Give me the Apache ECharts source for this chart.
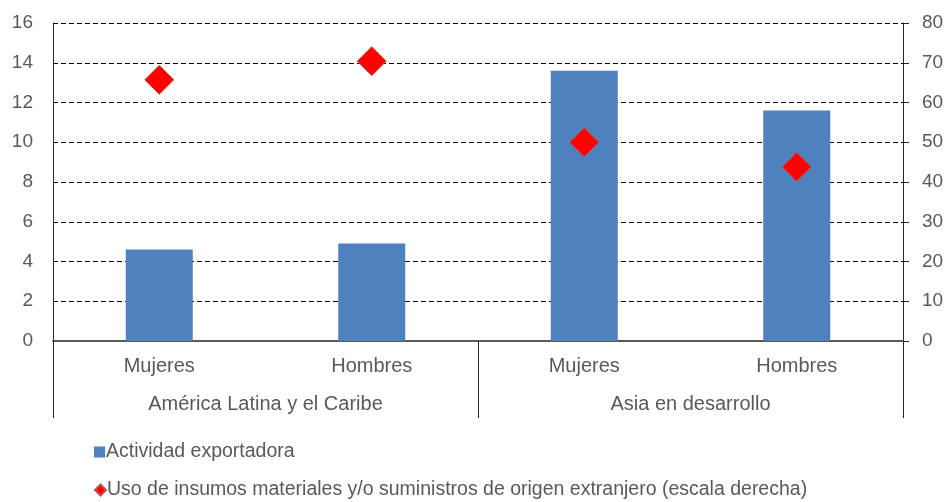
<!DOCTYPE html>
<html>
<head>
<meta charset="utf-8">
<script src="https://cdn.jsdelivr.net/npm/echarts@6/dist/echarts.min.js"></script>
<style>
  html, body { margin: 0; padding: 0; background: #fff; }
  #chart { width: 948px; height: 502px; }
</style>
</head>
<body>
<div id="chart"></div>
<script>
  // datos
  const categories = ['Mujeres', 'Hombres', 'Mujeres', 'Hombres']
  const groups = ['América Latina y el Caribe', 'Asia en desarrollo']
  const exportActivity = [4.6, 4.9, 13.6, 11.6] // escala izquierda
  const foreignInputs = [65.7, 70.4, 50.0, 43.8] // escala derecha
  const seriesNames = ['Actividad exportadora', 'Uso de insumos materiales y/o suministros de origen extranjero (escala derecha)']

  const font = 'Liberation Sans, Arial, sans-serif'
  const textColor = '#595959'

  const legendBase = {
    left: 89,
    itemWidth: 11,
    itemHeight: 11,
    textStyle: { fontFamily: font, fontSize: 19.5, color: textColor, padding: [0, 0, 0, -4] }
  }

  const chart = echarts.init(document.getElementById('chart'))
  const option = {
    animation: false,
    textStyle: { fontFamily: font },
    grid: { left: 53, right: 45, top: 23, bottom: 161 },
    legend: [
      Object.assign({}, legendBase, { top: 437, data: [{ name: seriesNames[0], icon: 'rect' }] }),
      Object.assign({}, legendBase, { top: 475, data: [{ name: seriesNames[1], icon: 'diamond' }] })
    ],
    xAxis: [
      {
        type: 'category',
        data: categories,
        position: 'bottom',
        axisLine: { show: true, lineStyle: { color: '#595959', width: 2 } },
        axisTick: { show: false },
        axisLabel: { margin: 15, fontSize: 20, color: textColor, fontFamily: font }
      },
      {
        type: 'category',
        data: groups,
        position: 'bottom',
        axisLine: { show: false },
        axisTick: { show: true, length: 77, lineStyle: { color: '#262626', width: 1 } },
        axisLabel: { margin: 53, fontSize: 20, color: textColor, fontFamily: font }
      }
    ],
    yAxis: [
      {
        type: 'value',
        min: 0,
        max: 16,
        interval: 2,
        axisLine: { show: true, lineStyle: { color: '#262626', width: 1 } },
        axisTick: { show: false },
        axisLabel: { margin: 20, fontSize: 19, color: textColor, fontFamily: font },
        splitLine: { show: true, lineStyle: { color: '#000', type: [5, 3], width: 1 } }
      },
      {
        type: 'value',
        min: 0,
        max: 80,
        interval: 10,
        position: 'right',
        axisLine: { show: true, lineStyle: { color: '#262626', width: 1 } },
        axisTick: { show: true, length: 6, lineStyle: { color: '#262626' } },
        axisLabel: { margin: 19, fontSize: 19, color: textColor, fontFamily: font },
        splitLine: { show: false }
      }
    ],
    series: [
      {
        name: seriesNames[0],
        type: 'bar',
        data: exportActivity,
        barWidth: 67,
        itemStyle: { color: '#4F81BD' },
        z: 2
      },
      {
        name: seriesNames[1],
        type: 'scatter',
        yAxisIndex: 1,
        data: foreignInputs,
        symbol: 'diamond',
        symbolSize: 29,
        itemStyle: { color: '#FF0000', borderColor: '#C0504D', borderWidth: 1, opacity: 1 },
        z: 3
      }
    ]
  }
  chart.setOption(option)
</script>
</body>
</html>
